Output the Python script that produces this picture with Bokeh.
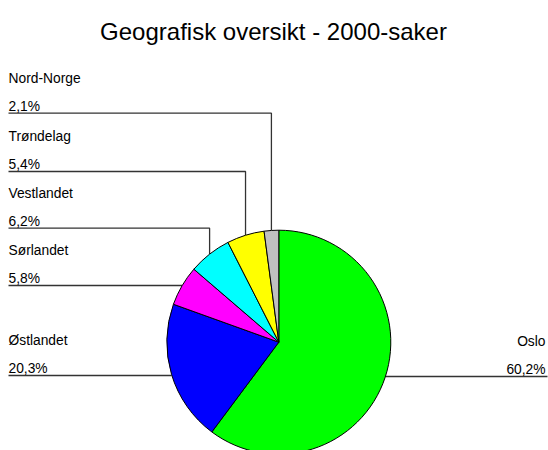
import numpy as np
from bokeh.plotting import figure
from bokeh.models import Range1d, ColumnDataSource
from bokeh.embed import file_html
from bokeh.resources import INLINE
from bokeh.core.properties import value

# ---- data ----
regions = ["Oslo", "Østlandet", "Sørlandet", "Vestlandet", "Trøndelag", "Nord-Norge"]
shares = [60.2, 20.3, 5.8, 6.2, 5.4, 2.1]
pct_labels = ["60,2%", "20,3%", "5,8%", "6,2%", "5,4%", "2,1%"]
colors = ["#00FF00", "#0000FF", "#FF00FF", "#00FFFF", "#FFFF00", "#C0C0C0"]
title_text = "Geografisk oversikt - 2000-saker"

# ---- layout (pixels, y measured from top) ----
W, H = 548, 450
CX, CY_PAGE, R = 278.3, 341.7, 112.0
label_side = ["right", "left", "left", "left", "left", "left"]
label_line_y = [376.0, 375.0, 285.0, 227.7, 171.0, 112.7]
LEFT_X, RIGHT_X = 8.0, 547.0
FONT = "Liberation Sans"
LABEL_SIZE = "13.8px"


def yd(page_y):
    return H - page_y


p = figure(width=W, height=H, output_backend="svg", toolbar_location=None,
           x_range=Range1d(0, W), y_range=Range1d(0, H), min_border=0)
p.axis.visible = False
p.grid.visible = False
p.outline_line_color = None
p.background_fill_color = "white"
p.border_fill_color = "white"

total = float(sum(shares))
fr = np.array(shares) / total
cum_end = np.cumsum(fr)
cum_start = cum_end - fr
start_ang = np.pi / 2 - 2 * np.pi * cum_start
end_ang = np.pi / 2 - 2 * np.pi * cum_end
mid_ang = np.pi / 2 - 2 * np.pi * (cum_start + fr / 2)
cy = yd(CY_PAGE)

# leader lines
xs, ys = [], []
for i in range(len(regions)):
    px = CX + R * np.cos(mid_ang[i])
    py = cy + R * np.sin(mid_ang[i])
    ly = yd(label_line_y[i])
    end_x = LEFT_X if label_side[i] == "left" else RIGHT_X
    if ly > py + 3:
        xs.append([px, px, end_x])
        ys.append([py, ly, ly])
    else:
        xs.append([px, end_x])
        ys.append([ly, ly])
p.multi_line(xs, ys, line_color="#333333", line_width=1.3)

# pie
src = ColumnDataSource(dict(start=start_ang, end=end_ang, color=colors, region=regions))
p.wedge(x=CX, y=cy, radius=R, start_angle="start", end_angle="end",
        direction="clock", fill_color="color", line_color="black", line_width=1,
        source=src)

# labels
for side in ["left", "right"]:
    idx = [i for i in range(len(regions)) if label_side[i] == side]
    tx = LEFT_X if side == "left" else RIGHT_X - 2
    align = "left" if side == "left" else "right"
    p.text(x=[tx] * len(idx), y=[yd(label_line_y[i] - 35) for i in idx],
           text=[regions[i] for i in idx], text_align=align, text_baseline="alphabetic",
           text_font=value(FONT), text_font_size=LABEL_SIZE, text_color="black")
    p.text(x=[tx] * len(idx), y=[yd(label_line_y[i] - 7) for i in idx],
           text=[pct_labels[i] for i in idx], text_align=align, text_baseline="alphabetic",
           text_font=value(FONT), text_font_size=LABEL_SIZE, text_color="black")

# title
p.text(x=[273], y=[yd(30.8)], text=[title_text], text_align="center",
       text_baseline="alphabetic", text_font=value(FONT), text_font_size="24px",
       text_color="black")

open("out.html", "w").write(file_html(p, INLINE))
